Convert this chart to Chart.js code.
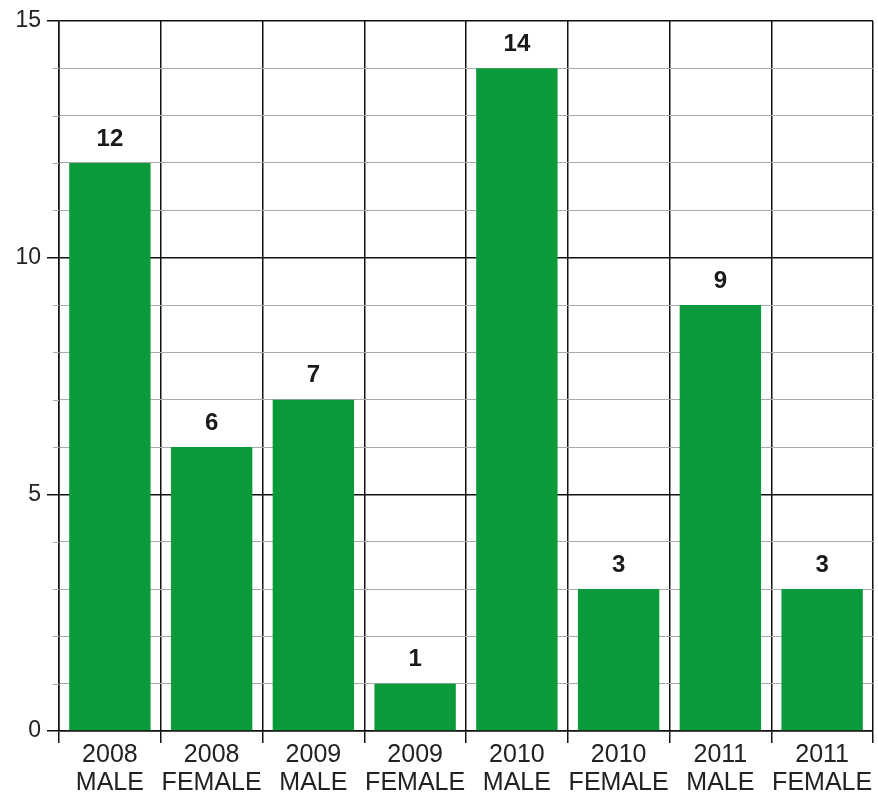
<!DOCTYPE html>
<html>
<head>
<meta charset="utf-8">
<script src="https://cdn.jsdelivr.net/npm/chart.js@4"></script>
<style>
  html, body { margin: 0; padding: 0; background: #ffffff; }
  #wrap { width: 878px; height: 800px; }
</style>
</head>
<body>
<div id="wrap"><canvas id="c" width="878" height="800"></canvas></div>
<script>
const years = ["2008", "2008", "2009", "2009", "2010", "2010", "2011", "2011"];
const sexes = ["MALE", "FEMALE", "MALE", "FEMALE", "MALE", "FEMALE", "MALE", "FEMALE"];
const counts = [12, 6, 7, 1, 14, 3, 9, 3];
const yMajorTicks = [0, 5, 10, 15];

const labels = years.map((y, i) => [y, sexes[i]]);
const FONT = "'Liberation Sans', Arial, Helvetica, sans-serif";

const valueLabels = {
  id: 'valueLabels',
  afterDatasetsDraw(chart) {
    const ctx = chart.ctx;
    const meta = chart.getDatasetMeta(0);
    ctx.save();
    ctx.font = 'bold 24px ' + FONT;
    ctx.fillStyle = '#1a1a1a';
    ctx.textAlign = 'center';
    ctx.textBaseline = 'middle';
    meta.data.forEach((bar, i) => {
      ctx.fillText(String(counts[i]), bar.x, bar.y - 24);
    });
    ctx.restore();
  }
};

const minorTicks = {
  id: 'minorTicks',
  afterDraw(chart) {
    const ctx = chart.ctx;
    const ys = chart.scales.y;
    ctx.save();
    ctx.strokeStyle = '#aaaaaa';
    ctx.lineWidth = 1;
    ys.ticks.forEach(t => {
      if (yMajorTicks.includes(t.value)) return;
      const py = Math.round(ys.getPixelForValue(t.value)) + 0.5;
      ctx.beginPath();
      ctx.moveTo(ys.right - 6, py);
      ctx.lineTo(ys.right, py);
      ctx.stroke();
    });
    ctx.restore();
  }
};

new Chart(document.getElementById('c'), {
  type: 'bar',
  data: {
    labels: labels,
    datasets: [{
      data: counts,
      backgroundColor: '#0b9a3b',
      borderWidth: 0,
      categoryPercentage: 0.8,
      barPercentage: 1.0
    }]
  },
  options: {
    responsive: false,
    animation: false,
    devicePixelRatio: 1,
    layout: { padding: { top: 21, right: 5, left: 0, bottom: 0 } },
    plugins: { legend: { display: false }, tooltip: { enabled: false } },
    scales: {
      x: {
        type: 'category',
        offset: true,
        afterFit(s) { s.height = 69; },
        grid: {
          offset: true,
          color: '#111111',
          lineWidth: 1.5,
          tickLength: 12,
          drawTicks: true
        },
        border: { color: '#111111', width: 1.5 },
        ticks: {
          color: '#222222',
          font: { family: FONT, size: 25, lineHeight: 1.12 },
          padding: -2,
          maxRotation: 0,
          autoSkip: false
        }
      },
      y: {
        min: 0,
        max: 15,
        afterFit(s) { s.width = 59; },
        grid: {
          color: c => yMajorTicks.includes(c.tick && c.tick.value) ? '#111111' : '#aaaaaa',
          lineWidth: c => yMajorTicks.includes(c.tick && c.tick.value) ? 1.5 : 1,
          tickColor: c => yMajorTicks.includes(c.tick && c.tick.value) ? '#111111' : 'rgba(0,0,0,0)',
          tickLength: 12
        },
        border: { color: '#111111', width: 1.5 },
        ticks: {
          stepSize: 1,
          autoSkip: false,
          color: '#222222',
          padding: 6,
          font: { family: FONT, size: 23 },
          callback: v => yMajorTicks.includes(v) ? String(v) : ''
        }
      }
    }
  },
  plugins: [valueLabels, minorTicks]
});
</script>
</body>
</html>
